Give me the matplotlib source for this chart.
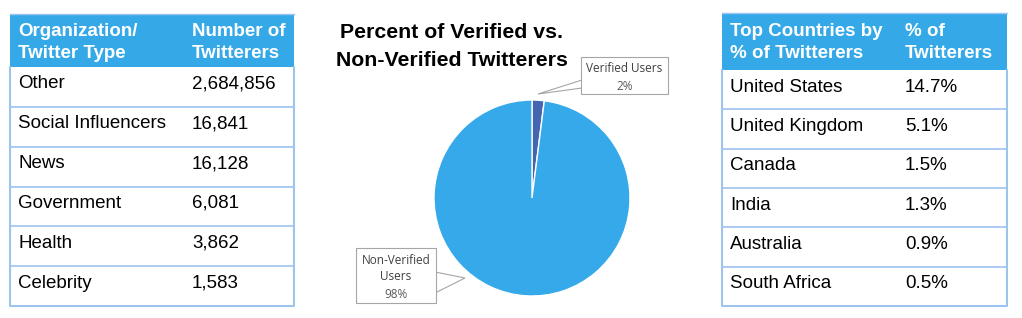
import matplotlib
matplotlib.use("Agg")
import matplotlib.pyplot as plt
from matplotlib.patches import Rectangle, Polygon

# ---- data ----
org_header = ["Organization/\nTwitter Type", "Number of\nTwitterers"]
org_types = ["Other", "Social Influencers", "News", "Government", "Health", "Celebrity"]
org_counts = [2684856, 16841, 16128, 6081, 3862, 1583]

country_header = ["Top Countries by\n% of Twitterers", "% of\nTwitterers"]
countries = ["United States", "United Kingdom", "Canada", "India", "Australia", "South Africa"]
country_pct = [14.7, 5.1, 1.5, 1.3, 0.9, 0.5]

pie_title = "Percent of Verified vs.\nNon-Verified Twitterers"
pie_labels = ["Verified Users", "Non-Verified\nUsers"]
pie_pct = [2, 98]

W, H = 1022, 318
HEAD = "#35A9E8"
BORDER = "#9DC4EE"
FONT = "Liberation Sans"
FS = 13.5

fig = plt.figure(figsize=(W / 100, H / 100), dpi=100)
fig.patch.set_facecolor("white")

# ---- pie ----
cx, cy, r = 532, 198, 98
axp = fig.add_axes([(cx - r) / W, (H - cy - r) / H, 2 * r / W, 2 * r / H])
axp.pie(pie_pct, colors=["#4466B2", "#35A9EA"], startangle=90, counterclock=False,
        wedgeprops=dict(edgecolor="white", linewidth=1.0))
axp.set_xlim(-1, 1)
axp.set_ylim(-1, 1)
axp.set_aspect("equal")
axp.axis("off")

# ---- overlay in pixel coordinates ----
ax = fig.add_axes([0, 0, 1, 1])
ax.set_xlim(0, W)
ax.set_ylim(H, 0)
ax.axis("off")


def draw_table(x0, x1, xcol, top, head_bot, bottom, header, names, vals, base1, base2):
    ax.add_patch(Rectangle((x0, top), x1 - x0, head_bot - top, facecolor=HEAD, edgecolor="none"))
    for xt, htxt in zip([x0 + 8, xcol], header):
        l1, l2 = htxt.split("\n")
        ax.text(xt, base1, l1, color="white", fontsize=FS, fontweight="bold", family=FONT, va="baseline")
        ax.text(xt, base2, l2, color="white", fontsize=FS, fontweight="bold", family=FONT, va="baseline")
    n = len(names)
    rh = (bottom - head_bot) / n
    for i, (nm, v) in enumerate(zip(names, vals)):
        rt = head_bot + i * rh
        ax.text(x0 + 8, rt + 21.5, nm, fontsize=FS, family=FONT, color="black", va="baseline")
        ax.text(xcol, rt + 21.5, v, fontsize=FS, family=FONT, color="black", va="baseline")
        if i > 0:
            ax.plot([x0, x1], [rt, rt], color=BORDER, lw=1.2)
    ax.plot([x0, x0, x1, x1], [head_bot, bottom, bottom, head_bot], color=BORDER, lw=1.5)
    ax.plot([x0, x1], [top, top], color=BORDER, lw=1.0)


draw_table(10, 294, 192, 14, 67, 306, org_header, org_types,
           [f"{v:,}" for v in org_counts], 36, 58)
draw_table(722, 1007, 905, 13, 70, 306, country_header, countries,
           [f"{v}%" for v in country_pct], 36, 58)

# title
ax.text(452, 33, pie_title.split("\n")[0], ha="center", va="center", fontsize=15.3,
        fontweight="bold", family=FONT, color="black")
ax.text(452, 60, pie_title.split("\n")[1], ha="center", va="center", fontsize=15.3,
        fontweight="bold", family=FONT, color="black")

LBL = "Open Sans"
LFS = 8.5
GRAY = "#A6A6A6"
# verified callout
ax.add_patch(Polygon([(582, 80), (538, 94), (582, 88)], closed=True, facecolor="white",
                     edgecolor=GRAY, lw=0.8, zorder=3))
ax.add_patch(Rectangle((581, 57), 87, 37, facecolor="white", edgecolor=GRAY, lw=0.8, zorder=4))
ax.text(624.5, 69, pie_labels[0], ha="center", va="center", fontsize=LFS, family=LBL,
        color="#404040", zorder=5)
ax.text(624.5, 86, f"{pie_pct[0]}%", ha="center", va="center", fontsize=LFS, family=LBL,
        color="#595959", zorder=5)

# non-verified callout
ax.add_patch(Polygon([(435, 272), (465, 278), (435, 293)], closed=True, facecolor="white",
                     edgecolor=GRAY, lw=0.8, zorder=3))
ax.add_patch(Rectangle((356, 248), 80, 55, facecolor="white", edgecolor=GRAY, lw=0.8, zorder=4))
l1, l2 = pie_labels[1].split("\n")
ax.text(396, 260, l1, ha="center", va="center", fontsize=LFS, family=LBL, color="#404040", zorder=5)
ax.text(396, 277, l2, ha="center", va="center", fontsize=LFS, family=LBL, color="#404040", zorder=5)
ax.text(396, 294, f"{pie_pct[1]}%", ha="center", va="center", fontsize=LFS, family=LBL,
        color="#595959", zorder=5)

fig.savefig("out.png", dpi=100)
